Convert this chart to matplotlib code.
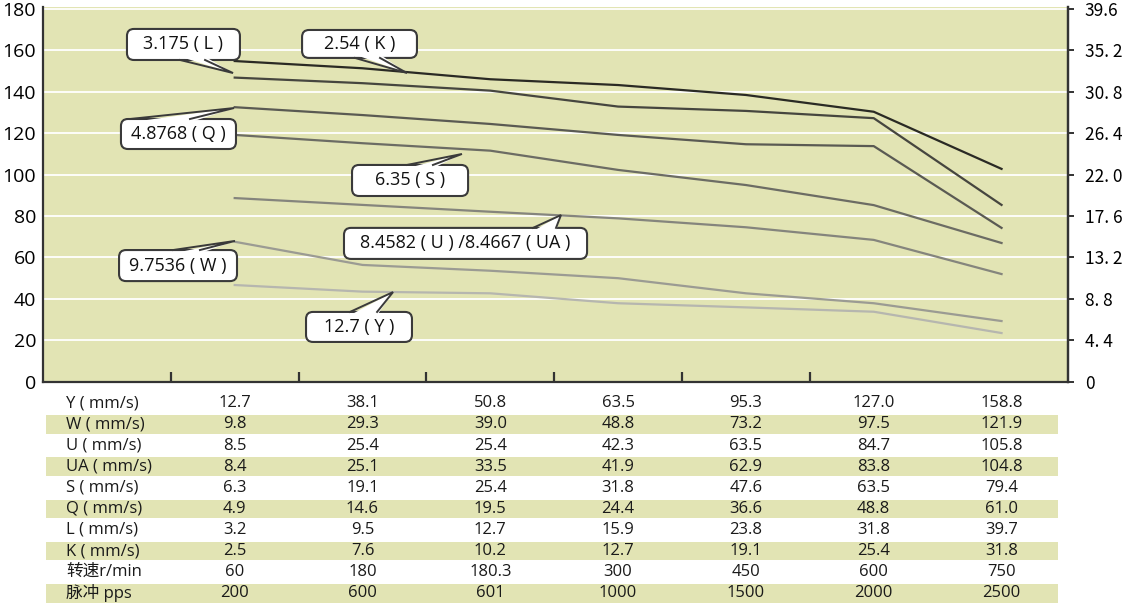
import matplotlib
matplotlib.use("Agg")
import matplotlib.pyplot as plt
import matplotlib.transforms as mtransforms
from matplotlib.patches import Rectangle, FancyBboxPatch, Polygon

plt.rcParams['font.family'] = ['Open Sans', 'Noto Sans CJK SC', 'DejaVu Sans']

# curve values, one point per table column
x_idx = [0, 1, 2, 3, 4, 5, 6]
curve_K = [154.9, 151.4, 146.1, 143.3, 138.5, 130.4, 102.8]
curve_L = [146.9, 144.2, 140.6, 132.9, 130.8, 127.3, 85.4]
curve_Q = [132.6, 128.8, 124.5, 119.2, 114.7, 113.8, 74.3]
curve_S = [119.2, 115.2, 111.6, 102.3, 95.0, 85.3, 67.0]
curve_U = [88.7, 85.4, 82.1, 78.9, 74.6, 68.5, 52.0]
curve_W = [67.6, 56.4, 53.6, 50.0, 42.7, 37.9, 29.3]
curve_Y = [46.7, 43.5, 42.7, 37.9, 35.9, 33.8, 23.5]

left_ticks = [0, 20, 40, 60, 80, 100, 120, 140, 160, 180]
right_ticks = [0, 4.4, 8.8, 13.2, 17.6, 22.0, 26.4, 30.8, 35.2, 39.6]
right_labels = ["0", "4. 4", "8. 8", "13. 2", "17. 6", "22. 0", "26. 4", "30. 8", "35. 2", "39.6"]

callout_text = ["3.175 ( L )", "2.54 ( K )", "4.8768 ( Q )", "6.35 ( S )",
                "8.4582 ( U ) /8.4667 ( UA )", "9.7536 ( W )", "12.7 ( Y )"]
# point each bubble's tail reaches (data units)
callout_tip = [(-0.013, 149.1), (1.348, 149.1), (-0.005, 132.2), (1.778, 110.0),
               (2.553, 80.5), (0.002, 68.0), (1.239, 43.3)]

row_labels = ["Y ( mm/s)", "W ( mm/s)", "U ( mm/s)", "UA ( mm/s)", "S ( mm/s)",
              "Q ( mm/s)", "L ( mm/s)", "K ( mm/s)", "转速r/min", "脉冲 pps"]
row_Y = ["12.7", "38.1", "50.8", "63.5", "95.3", "127.0", "158.8"]
row_W = ["9.8", "29.3", "39.0", "48.8", "73.2", "97.5", "121.9"]
row_U = ["8.5", "25.4", "25.4", "42.3", "63.5", "84.7", "105.8"]
row_UA = ["8.4", "25.1", "33.5", "41.9", "62.9", "83.8", "104.8"]
row_S = ["6.3", "19.1", "25.4", "31.8", "47.6", "63.5", "79.4"]
row_Q = ["4.9", "14.6", "19.5", "24.4", "36.6", "48.8", "61.0"]
row_L = ["3.2", "9.5", "12.7", "15.9", "23.8", "31.8", "39.7"]
row_K = ["2.5", "7.6", "10.2", "12.7", "19.1", "25.4", "31.8"]
row_rpm = ["60", "180", "180.3", "300", "450", "600", "750"]
row_pps = ["200", "600", "601", "1000", "1500", "2000", "2500"]

W_PX, H_PX = 1125, 612
bg = '#e2e4b4'
spine_col = '#333333'
box_col = '#3a3a3a'

fig = plt.figure(figsize=(W_PX / 100, H_PX / 100), dpi=100)
ax = fig.add_axes([43 / W_PX, 1 - 381.7 / H_PX, (1068 - 43) / W_PX, (381.7 - 7) / H_PX])
ax.set_facecolor(bg)
ax.set_xlim(-1.5, 6.52)
ax.set_ylim(0, 181)

for v in left_ticks[1:]:
    ax.axhline(v, color='white', lw=1.3, zorder=1)

curves = [curve_K, curve_L, curve_Q, curve_S, curve_U, curve_W, curve_Y]
colors = ['#2a2a24', '#46463f', '#5a5a53', '#6c6c64', '#85857d', '#9b9b93', '#b6b6af']
for ys, c in zip(curves, colors):
    ax.plot(x_idx, ys, color=c, lw=1.6, zorder=3)

ax.spines['top'].set_visible(False)
for s in ['left', 'bottom', 'right']:
    ax.spines[s].set_color(spine_col)
    ax.spines[s].set_linewidth(1.6)

ax.set_yticks(left_ticks)
ax.set_yticklabels([str(v) for v in left_ticks], fontsize=14)
ax.tick_params(axis='y', length=0, pad=5)
ax.set_xticks([i - 0.5 for i in x_idx[:-1]])
ax.set_xticklabels([])
ax.tick_params(axis='x', direction='in', length=7, width=1.6, color=spine_col)

ax2 = ax.twinx()
ax2.set_ylim(0, 181 * 39.6 / 180)
ax2.set_yticks(right_ticks)
ax2.set_yticklabels(right_labels, fontsize=12.5, family=['Noto Sans CJK SC', 'DejaVu Sans'])
ax2.tick_params(axis='y', direction='out', length=4, width=1.4, color=spine_col, pad=8)
for s in ['top', 'left', 'bottom']:
    ax2.spines[s].set_visible(False)
ax2.spines['right'].set_color(spine_col)
ax2.spines['right'].set_linewidth(1.6)

# speech-bubble callouts: box (x0, x1, y0, y1) and the two tail base points
callout_box = [(-0.843, 0.041, 155.4, 170.4), (0.527, 1.426, 156.4, 169.9),
               (-0.890, 0.010, 112.4, 126.9), (0.918, 1.826, 89.7, 104.7),
               (0.855, 2.757, 59.3, 74.3), (-0.905, 0.018, 48.6, 63.6),
               (0.558, 1.387, 19.2, 33.7)]
callout_base = [((-0.427, 155.4), (-0.232, 155.4)), ((0.941, 156.4), (1.137, 156.4)),
                ((-0.819, 126.9), (-0.350, 126.9)), ((1.348, 104.7), (1.551, 104.7)),
                ((2.334, 74.3), (2.514, 74.3)), ((-0.483, 63.6), (-0.272, 63.6)),
                ((0.902, 33.7), (1.114, 33.7))]

px_x = 1025 / (6.52 + 1.5)
px_y = 374.7 / 181
aspect = px_x / px_y
for txt, tip, box, base in zip(callout_text, callout_tip, callout_box, callout_base):
    x0, x1, y0, y1 = box
    ax.add_patch(FancyBboxPatch((x0, y0), x1 - x0, y1 - y0,
                                boxstyle='round,pad=0,rounding_size=%f' % (7 / px_x),
                                mutation_aspect=aspect, fc='white', ec=box_col,
                                lw=1.5, zorder=5, clip_on=False))
    (bx1, by1), (bx2, by2) = base
    inward = 1.6 if by1 <= y0 + 0.01 else -1.6
    ax.add_patch(Polygon([(bx1, by1 + inward), tip, (bx2, by2 + inward)],
                         closed=True, fc='white', ec='none', zorder=6))
    ax.plot([bx1, tip[0], bx2], [by1, tip[1], by2], color=box_col, lw=1.4,
            zorder=6.5, solid_joinstyle='miter')
    ax.text((x0 + x1) / 2, (y0 + y1) / 2, txt, ha='center', va='center',
            fontsize=13, color='#111111', zorder=7)

# table below the chart, columns aligned to the curve points
rows = [row_Y, row_W, row_U, row_UA, row_S, row_Q, row_L, row_K, row_rpm, row_pps]
trans = mtransforms.blended_transform_factory(ax.transData, fig.transFigure)
row_top = 403.3
row_step = 21.1
for i, (lab, vals) in enumerate(zip(row_labels, rows)):
    yc = row_top + i * row_step
    yf = 1 - yc / H_PX
    if i % 2 == 1:
        fig.patches.append(Rectangle((45.7 / W_PX, 1 - (yc + 9.3) / H_PX),
                                     (1058 - 45.7) / W_PX, 18.6 / H_PX,
                                     transform=fig.transFigure, facecolor=bg,
                                     edgecolor='none', zorder=-1))
    fig.text(66 / W_PX, yf, lab, ha='left', va='center', fontsize=12, color='#1a1a1a')
    for xi, v in zip(x_idx, vals):
        ax.text(xi, yf, v, transform=trans, ha='center', va='center',
                fontsize=12, color='#1a1a1a', clip_on=False)

fig.savefig("out.png", dpi=100)
